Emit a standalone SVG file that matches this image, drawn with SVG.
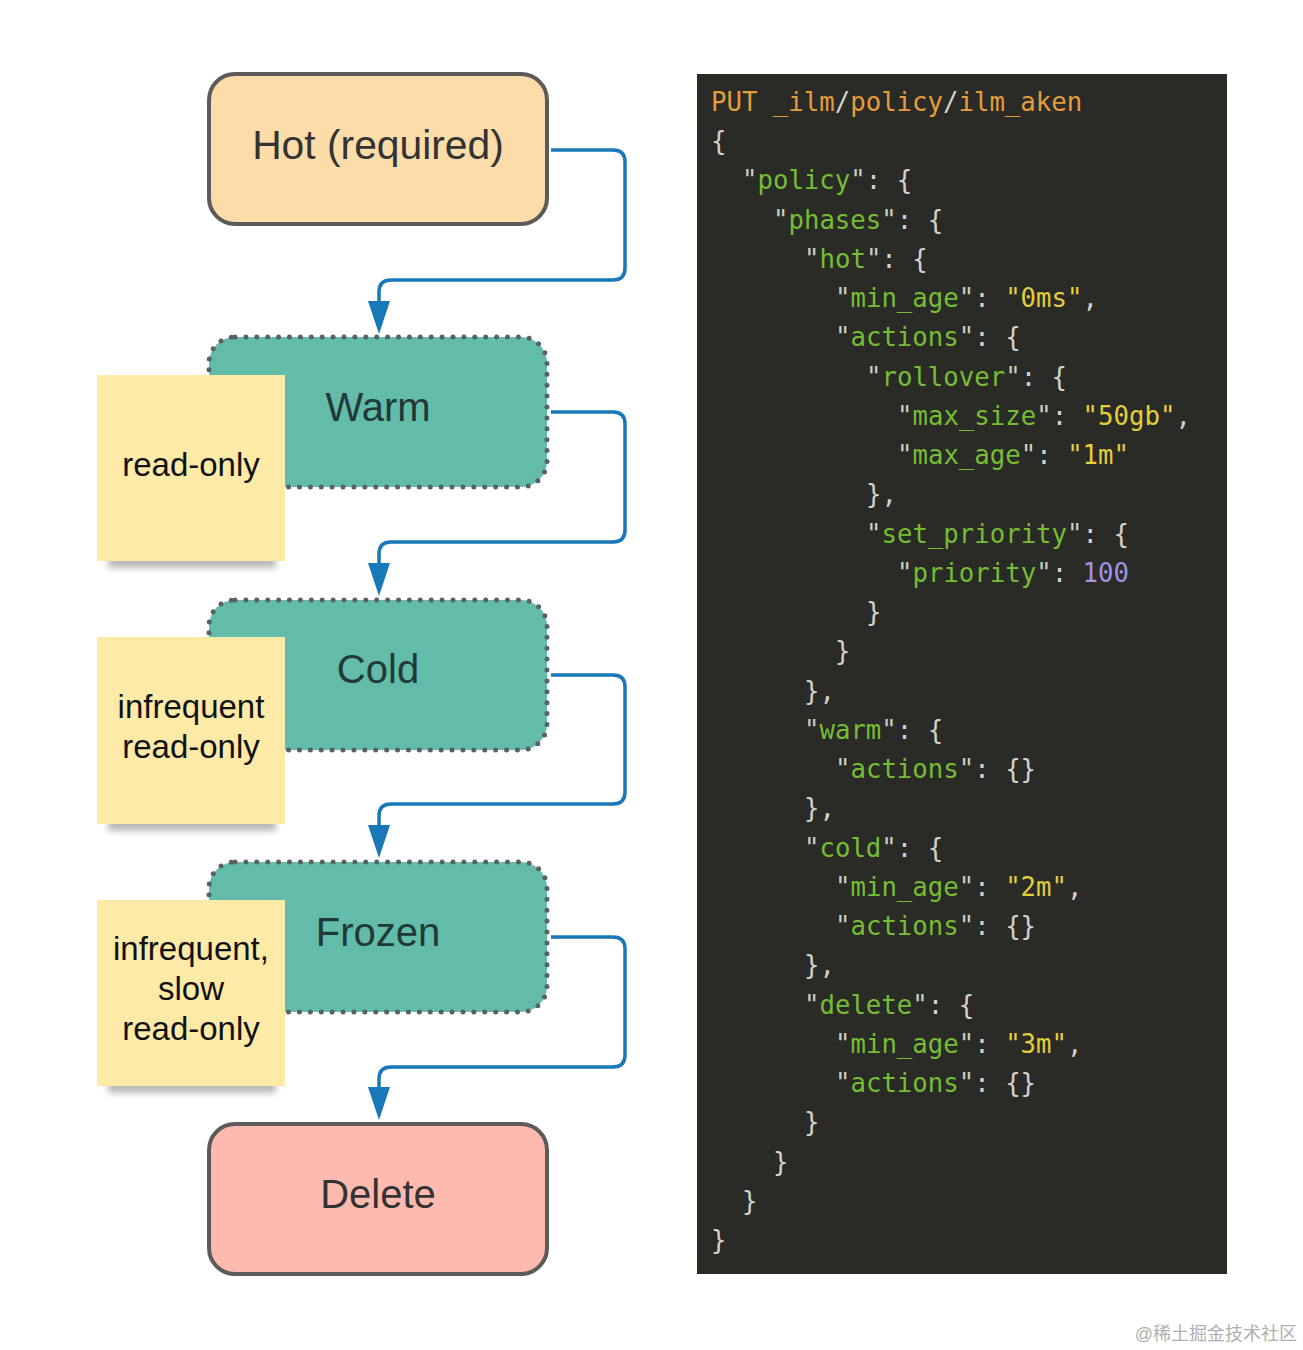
<svg xmlns="http://www.w3.org/2000/svg" width="1303" height="1350" viewBox="0 0 1303 1350">
<style>
.node{stroke:#5d5a5a;stroke-width:4}
.dotted{fill:#62bca9;stroke:#596262;stroke-width:5;stroke-dasharray:0 10.9;stroke-linecap:round}
.ntext{font-family:"Liberation Sans",Arial,sans-serif;font-size:40px;text-anchor:middle}
.sticky{fill:#fdeaa7}
.stext{font-family:"Liberation Sans",Arial,sans-serif;font-size:33px;text-anchor:middle;fill:#111}
.conn{fill:none;stroke:#1878b8;stroke-width:3.5;marker-end:url(#arr)}
.code{font-family:"DejaVu Sans Mono","Liberation Mono",monospace;font-size:25.7px;fill:#d2d2cc}
.k{fill:#76bd34}
.q{fill:#c9cfc0}
.s{fill:#e3cf3a}
.n{fill:#a093e6}
.o{fill:#e59d3c}
</style>
<defs>
<marker id="arr" markerUnits="userSpaceOnUse" markerWidth="34" markerHeight="24" refX="22" refY="11" orient="auto">
<path d="M0,0 L33,11 L0,22 z" fill="#1878b8"/>
</marker>
<filter id="blur" x="-20%" y="-100%" width="140%" height="300%"><feGaussianBlur stdDeviation="3"/></filter>
</defs>
<rect width="1303" height="1350" fill="#ffffff"/>

<g id="connectors">
<path class="conn" d="M551,150 H613 Q625,150 625,162 V268 Q625,280 613,280 H391 Q379,280 379,292 V323"/>
<path class="conn" d="M551,412 H613 Q625,412 625,424 V530 Q625,542 613,542 H391 Q379,542 379,554 V585"/>
<path class="conn" d="M551,675 H613 Q625,675 625,687 V792 Q625,804 613,804 H391 Q379,804 379,816 V847"/>
<path class="conn" d="M551,937 H613 Q625,937 625,949 V1055 Q625,1067 613,1067 H391 Q379,1067 379,1079 V1109"/>
</g>

<g id="hot">
<rect class="node" x="209" y="74" width="338" height="150" rx="26" fill="#fcdca8"/>
<text class="ntext" x="378" y="159" fill="#333" style="font-size:40.8px">Hot (required)</text>
</g>

<g id="warm">
<rect class="dotted" x="209" y="337" width="338" height="150" rx="26"/>
<text class="ntext" x="378" y="421" fill="#213a37">Warm</text>
</g>
<g id="warm-note">
<rect x="108" y="556" width="168" height="12" fill="#8a8a8a" opacity="0.6" filter="url(#blur)"/>
<rect class="sticky" x="97" y="375" width="188" height="186"/>
<text class="stext" x="191" y="476">read-only</text>
</g>

<g id="cold">
<rect class="dotted" x="209" y="600" width="338" height="150" rx="26"/>
<text class="ntext" x="378" y="683" fill="#213a37">Cold</text>
</g>
<g id="cold-note">
<rect x="108" y="819" width="168" height="12" fill="#8a8a8a" opacity="0.6" filter="url(#blur)"/>
<rect class="sticky" x="97" y="637" width="188" height="187"/>
<text class="stext" x="191" y="718">infrequent</text>
<text class="stext" x="191" y="758">read-only</text>
</g>

<g id="frozen">
<rect class="dotted" x="209" y="862" width="338" height="150" rx="26"/>
<text class="ntext" x="378" y="946" fill="#213a37">Frozen</text>
</g>
<g id="frozen-note">
<rect x="108" y="1081" width="168" height="12" fill="#8a8a8a" opacity="0.6" filter="url(#blur)"/>
<rect class="sticky" x="97" y="900" width="188" height="186"/>
<text class="stext" x="191" y="960">infrequent,</text>
<text class="stext" x="191" y="1000">slow</text>
<text class="stext" x="191" y="1040">read-only</text>
</g>

<g id="delete">
<rect class="node" x="209" y="1124" width="338" height="150" rx="26" fill="#ffbab0"/>
<text class="ntext" x="378" y="1208" fill="#333">Delete</text>
</g>

<g id="code">
<rect x="697" y="74" width="530" height="1200" fill="#2a2a27"/>
<text class="code" x="711" y="111"><tspan class="o">PUT _ilm</tspan>/<tspan class="o">policy</tspan>/<tspan class="o">ilm_aken</tspan></text>
<text class="code" x="711" y="150">{</text>
<text class="code" x="742" y="189"><tspan class="q">"</tspan><tspan class="k">policy</tspan><tspan class="q">"</tspan>: {</text>
<text class="code" x="773" y="229"><tspan class="q">"</tspan><tspan class="k">phases</tspan><tspan class="q">"</tspan>: {</text>
<text class="code" x="804" y="268"><tspan class="q">"</tspan><tspan class="k">hot</tspan><tspan class="q">"</tspan>: {</text>
<text class="code" x="835" y="307"><tspan class="q">"</tspan><tspan class="k">min_age</tspan><tspan class="q">"</tspan>: <tspan class="s">"0ms"</tspan>,</text>
<text class="code" x="835" y="346"><tspan class="q">"</tspan><tspan class="k">actions</tspan><tspan class="q">"</tspan>: {</text>
<text class="code" x="866" y="386"><tspan class="q">"</tspan><tspan class="k">rollover</tspan><tspan class="q">"</tspan>: {</text>
<text class="code" x="897" y="425"><tspan class="q">"</tspan><tspan class="k">max_size</tspan><tspan class="q">"</tspan>: <tspan class="s">"50gb"</tspan>,</text>
<text class="code" x="897" y="464"><tspan class="q">"</tspan><tspan class="k">max_age</tspan><tspan class="q">"</tspan>: <tspan class="s">"1m"</tspan></text>
<text class="code" x="866" y="503">},</text>
<text class="code" x="866" y="543"><tspan class="q">"</tspan><tspan class="k">set_priority</tspan><tspan class="q">"</tspan>: {</text>
<text class="code" x="897" y="582"><tspan class="q">"</tspan><tspan class="k">priority</tspan><tspan class="q">"</tspan>: <tspan class="n">100</tspan></text>
<text class="code" x="866" y="621">}</text>
<text class="code" x="835" y="660">}</text>
<text class="code" x="804" y="700">},</text>
<text class="code" x="804" y="739"><tspan class="q">"</tspan><tspan class="k">warm</tspan><tspan class="q">"</tspan>: {</text>
<text class="code" x="835" y="778"><tspan class="q">"</tspan><tspan class="k">actions</tspan><tspan class="q">"</tspan>: {}</text>
<text class="code" x="804" y="817">},</text>
<text class="code" x="804" y="857"><tspan class="q">"</tspan><tspan class="k">cold</tspan><tspan class="q">"</tspan>: {</text>
<text class="code" x="835" y="896"><tspan class="q">"</tspan><tspan class="k">min_age</tspan><tspan class="q">"</tspan>: <tspan class="s">"2m"</tspan>,</text>
<text class="code" x="835" y="935"><tspan class="q">"</tspan><tspan class="k">actions</tspan><tspan class="q">"</tspan>: {}</text>
<text class="code" x="804" y="974">},</text>
<text class="code" x="804" y="1014"><tspan class="q">"</tspan><tspan class="k">delete</tspan><tspan class="q">"</tspan>: {</text>
<text class="code" x="835" y="1053"><tspan class="q">"</tspan><tspan class="k">min_age</tspan><tspan class="q">"</tspan>: <tspan class="s">"3m"</tspan>,</text>
<text class="code" x="835" y="1092"><tspan class="q">"</tspan><tspan class="k">actions</tspan><tspan class="q">"</tspan>: {}</text>
<text class="code" x="804" y="1131">}</text>
<text class="code" x="773" y="1171">}</text>
<text class="code" x="742" y="1210">}</text>
<text class="code" x="711" y="1249">}</text>
</g>

<text x="1297" y="1340" text-anchor="end" font-family="'Liberation Sans','Noto Sans CJK SC',sans-serif" font-size="18" fill="#b0b0b0">@稀土掘金技术社区</text>
</svg>
